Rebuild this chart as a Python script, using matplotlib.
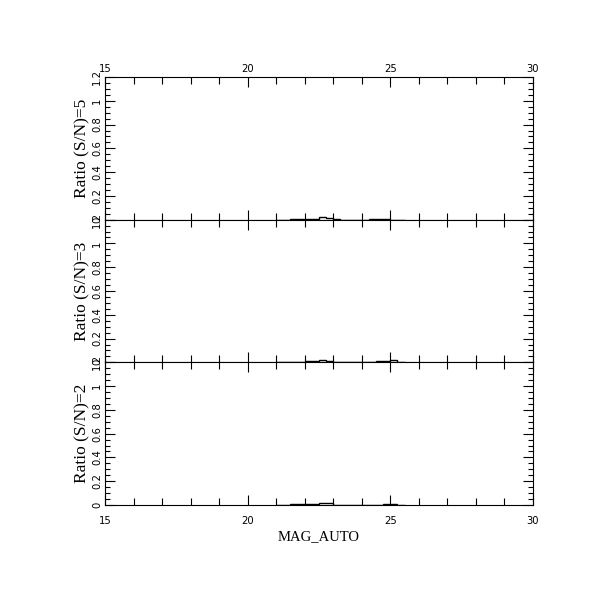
import numpy as np
import matplotlib
matplotlib.use("Agg")
import matplotlib.pyplot as plt
from matplotlib.ticker import MultipleLocator

# Histogram bin edges (MAG_AUTO) and ratio values for each S/N threshold
bin_edges = [21.0, 21.25, 21.5, 21.75, 22.0, 22.25, 22.5, 22.75, 23.0, 23.25,
             23.5, 23.75, 24.0, 24.25, 24.5, 24.75, 25.0, 25.25, 25.5]
ratio_sn5 = [0.0, 0.0, 0.008, 0.008, 0.006, 0.006, 0.025, 0.015, 0.002, 0.0,
             0.0, 0.0, 0.0, 0.006, 0.008, 0.002, 0.0, 0.0]
ratio_sn3 = [0.004, 0.002, 0.0, 0.002, 0.008, 0.008, 0.016, 0.012, 0.003, 0.002,
             0.0, 0.0, 0.0, 0.0, 0.008, 0.008, 0.016, 0.0]
ratio_sn2 = [0.0, 0.0, 0.007, 0.007, 0.007, 0.007, 0.016, 0.016, 0.0, 0.0,
             0.0, 0.0, 0.0, 0.0, 0.0, 0.008, 0.008, 0.0]

panel_labels = ["Ratio (S/N)=5", "Ratio (S/N)=3", "Ratio (S/N)=2"]
x_ticks = [15, 20, 25, 30]
y_ticks = [0, 0.2, 0.4, 0.6, 0.8, 1.0, 1.2]
y_tick_labels = ["0", "0.2", "0.4", "0.6", "0.8", "1", "1.2"]
x_label = "MAG_AUTO"

fig = plt.figure(figsize=(6.11, 6.11), dpi=100)
left, width = 105 / 611, 428 / 611
top = 1 - 77 / 611
ph = 428 / 3 / 611

serif = ["Liberation Serif", "DejaVu Serif"]
tick_font = dict(family="DejaVu Sans", size=7.2)

series = [ratio_sn5, ratio_sn3, ratio_sn2]
for i, (vals, lab) in enumerate(zip(series, panel_labels)):
    ax = fig.add_axes([left, top - (i + 1) * ph, width, ph])
    ax.stairs(vals, bin_edges, color="black", linewidth=1.0, baseline=None)
    ax.set_xlim(15, 30)
    ax.set_ylim(0, 1.2)
    ax.xaxis.set_major_locator(MultipleLocator(5))
    ax.xaxis.set_minor_locator(MultipleLocator(1))
    ax.set_yticks(y_ticks)
    ax.set_yticklabels(y_tick_labels, rotation=90, va="center", **tick_font)
    ax.yaxis.set_minor_locator(MultipleLocator(0.05))
    ax.tick_params(which="both", direction="in", top=True, right=True,
                   width=0.8, color="black")
    ax.tick_params(which="major", length=7)
    ax.tick_params(which="minor", length=3.5)
    ax.tick_params(axis="x", which="minor", length=5)
    ax.tick_params(axis="y", pad=2)
    for sp in ax.spines.values():
        sp.set_linewidth(0.8)
    ax.set_xticks(x_ticks)
    if i == 0:
        ax.tick_params(axis="x", labeltop=True, labelbottom=False, pad=2)
        ax.set_xticklabels([str(v) for v in x_ticks], **tick_font)
    elif i == 2:
        ax.tick_params(axis="x", labeltop=False, labelbottom=True, pad=8)
        ax.set_xticklabels([str(v) for v in x_ticks], **tick_font)
        ax.set_xlabel(x_label, family=serif, size=10.5, labelpad=3)
    else:
        ax.tick_params(axis="x", labeltop=False, labelbottom=False)
    ax.set_ylabel(lab, family=serif, size=12.5, labelpad=1)

fig.savefig("out.png", dpi=100)
